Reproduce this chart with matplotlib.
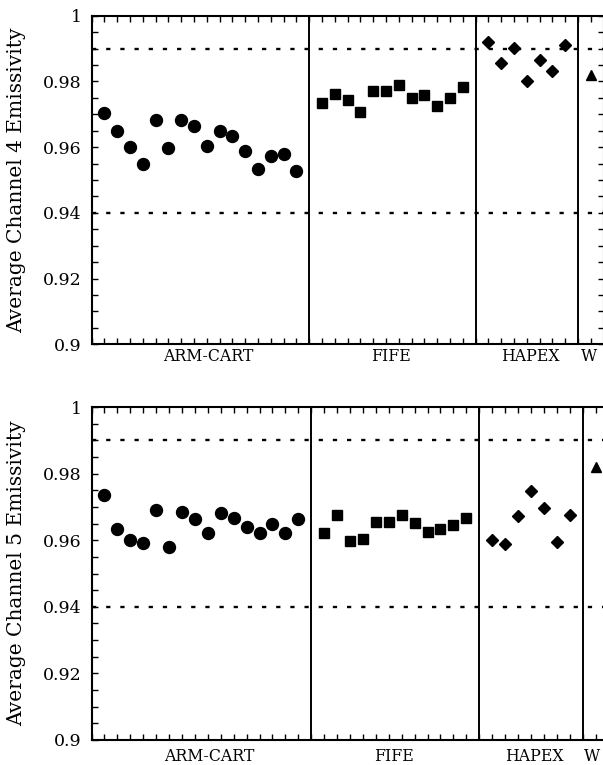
import numpy as np
import matplotlib
matplotlib.use('Agg')
import matplotlib.pyplot as plt

# Emisividad media canal 4 (panel superior)
ch4_arm = [0.9703, 0.9649, 0.9601, 0.9548, 0.9684, 0.9598, 0.9682, 0.9664,
           0.9604, 0.9649, 0.9634, 0.9589, 0.9534, 0.9572, 0.9580, 0.9528]
ch4_fife = [0.9735, 0.9762, 0.9742, 0.9707, 0.9770, 0.9771, 0.9790, 0.9751,
            0.9759, 0.9724, 0.9749, 0.9782]
ch4_hapex = [0.9921, 0.9857, 0.9903, 0.9800, 0.9865, 0.9832, 0.9912]
ch4_w = [0.9821]

# Emisividad media canal 5 (panel inferior)
ch5_arm = [0.9735, 0.9635, 0.9600, 0.9592, 0.9691, 0.9580, 0.9685, 0.9663,
           0.9621, 0.9682, 0.9667, 0.9641, 0.9623, 0.9650, 0.9623, 0.9665]
ch5_fife = [0.9621, 0.9676, 0.9598, 0.9604, 0.9655, 0.9655, 0.9675, 0.9653,
            0.9624, 0.9634, 0.9647, 0.9667]
ch5_hapex = [0.9600, 0.9588, 0.9672, 0.9749, 0.9698, 0.9596, 0.9675]
ch5_w = [0.9820]

sitios = ['ARM-CART', 'FIFE', 'HAPEX', 'W']
sitios_pos_sup = [9.1, 23.4, 34.3, 38.9]
sitios_pos_inf = [9.1, 23.4, 34.3, 38.7]
divisores = [17, 30, 38]
limites = [0.99, 0.94]
y_ticks = [0.9, 0.92, 0.94, 0.96, 0.98, 1.0]
y_labels = ['0.9', '0.92', '0.94', '0.96', '0.98', '1']
marcadores = [('o', 8.6), ('s', 7.8), ('D', 6.3), ('^', 7.0)]

plt.rcParams['font.family'] = 'DejaVu Serif'

fig = plt.figure(figsize=(6.03, 7.65), dpi=100)


def dibujarPanel(ax, grupos, titulo_y, etiquetas_pos, pad_x):
    # posiciones x: enteros consecutivos, saltando cada divisor
    inicio = 1
    for n, valores in enumerate(grupos):
        xs = np.arange(inicio, inicio + len(valores))
        m, ms = marcadores[n]
        ax.plot(xs, valores, linestyle='none', marker=m, markersize=ms,
                color='black', clip_on=False)
        if n < len(divisores):
            inicio = divisores[n] + 1

    for d in divisores:
        ax.axvline(d, color='black', linewidth=1.4)
    for l in limites:
        ax.axhline(l, color='black', linewidth=1.7, linestyle=(0, (1.8, 4.2)))

    ax.set_xlim(0, 40)
    ax.set_ylim(0.9, 1.0)
    ax.set_yticks(y_ticks)
    ax.set_yticklabels(y_labels)
    ax.set_yticks(np.arange(0.9, 1.0001, 0.005), minor=True)
    ax.set_xticks(etiquetas_pos)
    ax.set_xticklabels(sitios)
    ax.set_xticks(np.arange(0, 41), minor=True)

    ax.tick_params(axis='y', which='both', direction='in', length=4.5,
                   width=1, right=True, labelsize=12.5, pad=7)
    ax.tick_params(axis='x', which='major', length=0, labelsize=11.3, pad=pad_x)
    ax.tick_params(axis='x', which='minor', direction='in', length=4,
                   width=1, top=True)
    for s in ax.spines.values():
        s.set_linewidth(1.5)

    pos = ax.get_position()
    fig.text(17 / 603, pos.y0 + pos.height / 2, titulo_y, rotation=90,
             ha='center', va='center', fontsize=14.5)


ax1 = fig.add_axes([91.5 / 603, 1 - 344.3 / 765, 512 / 603, 328.6 / 765])
dibujarPanel(ax1, [ch4_arm, ch4_fife, ch4_hapex, ch4_w],
             'Average Channel 4 Emissivity', sitios_pos_sup, 3)

ax2 = fig.add_axes([91.5 / 603, 1 - 740 / 765, 517 / 603, 333 / 765])
dibujarPanel(ax2, [ch5_arm, ch5_fife, ch5_hapex, ch5_w],
             'Average Channel 5 Emissivity', sitios_pos_inf, 6)

plt.savefig('out.png', dpi=100)
